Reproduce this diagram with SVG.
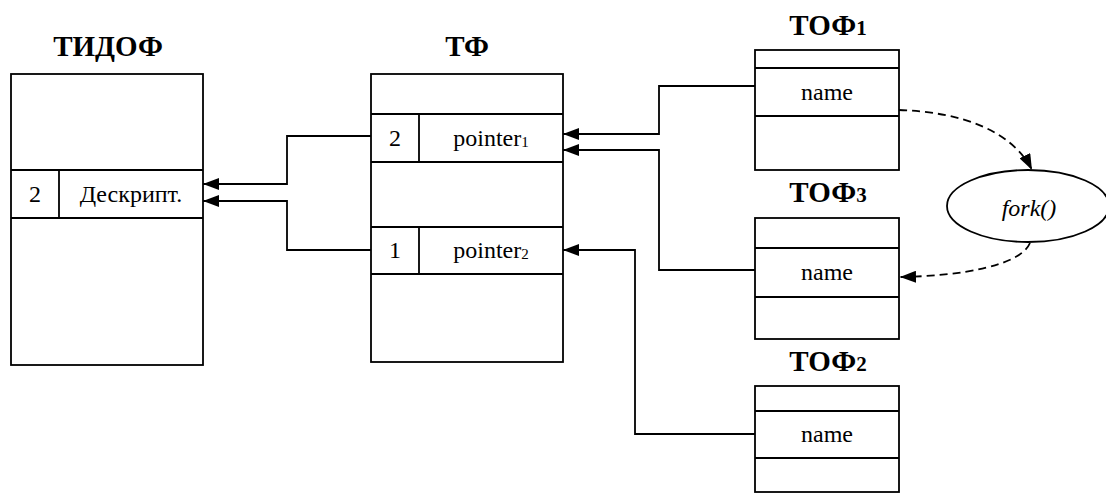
<svg xmlns="http://www.w3.org/2000/svg" width="1106" height="502" viewBox="0 0 1106 502">
<defs>
<marker id="arr" markerUnits="userSpaceOnUse" markerWidth="16" markerHeight="12" viewBox="0 0 16 12" refX="16" refY="6" orient="auto">
<path d="M0,0 L16,6 L0,12 z" fill="#000"/>
</marker>
</defs>
<rect width="1106" height="502" fill="#fff"/>

<g id="tidof" stroke="#000" stroke-width="1.8">
<rect fill="#fff" x="11" y="74" width="192" height="291"/>
<line x1="11" y1="170" x2="203" y2="170"/>
<line x1="11" y1="218" x2="203" y2="218"/>
<line x1="59" y1="170" x2="59" y2="218"/>
<text stroke="none" fill="#000" font-family="Liberation Serif" font-size="29" font-weight="bold" text-anchor="middle" x="108" y="56">ТИДОФ</text>
<text stroke="none" fill="#000" font-family="Liberation Serif" font-size="24" text-anchor="middle" x="35" y="202">2</text>
<text stroke="none" fill="#000" font-family="Liberation Serif" font-size="24" text-anchor="middle" x="131" y="202">Дескрипт.</text>
</g>

<g id="tf" stroke="#000" stroke-width="1.8">
<rect fill="#fff" x="371" y="74" width="192" height="288"/>
<line x1="371" y1="114" x2="563" y2="114"/>
<line x1="371" y1="162" x2="563" y2="162"/>
<line x1="371" y1="227" x2="563" y2="227"/>
<line x1="371" y1="274" x2="563" y2="274"/>
<line x1="419" y1="114" x2="419" y2="162"/>
<line x1="419" y1="227" x2="419" y2="274"/>
<text stroke="none" fill="#000" font-family="Liberation Serif" font-size="29" font-weight="bold" text-anchor="middle" x="467" y="56">ТФ</text>
<text stroke="none" fill="#000" font-family="Liberation Serif" font-size="24" text-anchor="middle" x="395" y="146">2</text>
<text stroke="none" fill="#000" font-family="Liberation Serif" font-size="24" text-anchor="middle" x="491" y="146">pointer<tspan font-size="15" dy="1">1</tspan></text>
<text stroke="none" fill="#000" font-family="Liberation Serif" font-size="24" text-anchor="middle" x="395" y="258">1</text>
<text stroke="none" fill="#000" font-family="Liberation Serif" font-size="24" text-anchor="middle" x="491" y="258">pointer<tspan font-size="15" dy="1">2</tspan></text>
</g>

<g id="tof1" stroke="#000" stroke-width="1.8">
<rect fill="#fff" x="755" y="50" width="144" height="120"/>
<line x1="755" y1="68" x2="899" y2="68"/>
<line x1="755" y1="116" x2="899" y2="116"/>
<text stroke="none" fill="#000" font-family="Liberation Serif" font-size="29" font-weight="bold" text-anchor="middle" x="828" y="35">ТОФ<tspan font-size="21">1</tspan></text>
<text stroke="none" fill="#000" font-family="Liberation Serif" font-size="24" text-anchor="middle" x="827" y="100">name</text>
</g>

<g id="tof3" stroke="#000" stroke-width="1.8">
<rect fill="#fff" x="755" y="218" width="144" height="121"/>
<line x1="755" y1="248" x2="899" y2="248"/>
<line x1="755" y1="297" x2="899" y2="297"/>
<text stroke="none" fill="#000" font-family="Liberation Serif" font-size="29" font-weight="bold" text-anchor="middle" x="828" y="202">ТОФ<tspan font-size="21">3</tspan></text>
<text stroke="none" fill="#000" font-family="Liberation Serif" font-size="24" text-anchor="middle" x="827" y="280">name</text>
</g>

<g id="tof2" stroke="#000" stroke-width="1.8">
<rect fill="#fff" x="755" y="386" width="144" height="106"/>
<line x1="755" y1="411" x2="899" y2="411"/>
<line x1="755" y1="458" x2="899" y2="458"/>
<text stroke="none" fill="#000" font-family="Liberation Serif" font-size="29" font-weight="bold" text-anchor="middle" x="828" y="371">ТОФ<tspan font-size="21">2</tspan></text>
<text stroke="none" fill="#000" font-family="Liberation Serif" font-size="24" text-anchor="middle" x="827" y="442">name</text>
</g>

<g id="fork" stroke="#000" stroke-width="1.8">
<ellipse fill="#fff" cx="1028" cy="206" rx="81" ry="36"/>
<text stroke="none" fill="#000" font-family="Liberation Serif" font-size="24" font-style="italic" text-anchor="middle" x="1029" y="216">fork()</text>
</g>

<g id="connectors" fill="none" stroke="#000" stroke-width="1.8" marker-end="url(#arr)">
<polyline points="371,136 287,136 287,184 203,184"/>
<polyline points="371,250 287,250 287,201 203,201"/>
<polyline points="755,86 659,86 659,134 563,134"/>
<polyline points="755,270 659,270 659,150 563,150"/>
<polyline points="755,434 635,434 635,250 563,250"/>
<path stroke-dasharray="8,5" d="M899,110 C960,112 1012,130 1032,170"/>
<path stroke-dasharray="8,5" d="M1030,243 C1020,266 960,276 900,277"/>
</g>
</svg>
